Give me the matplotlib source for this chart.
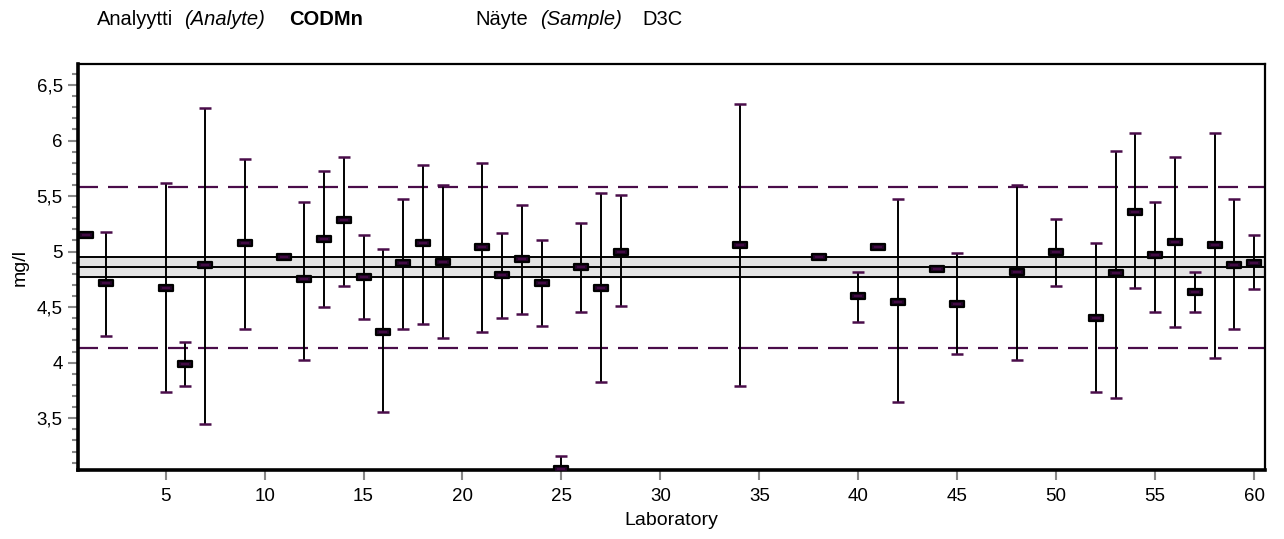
import matplotlib.pyplot as plt
import numpy as np
from matplotlib.path import Path
from matplotlib.ticker import MultipleLocator, FuncFormatter

plt.rcParams['font.family'] = ['Liberation Sans', 'DejaVu Sans']

# lab number, reported value, upper and lower limit of uncertainty (nan = none)
labs = [1, 2, 5, 6, 7, 9, 11, 12, 13, 14, 15, 16, 17, 18, 19, 21, 22, 23, 24, 25,
        26, 27, 28, 34, 38, 40, 41, 42, 44, 45, 48, 50, 52, 53, 54, 55, 56, 57, 58, 59, 60]
values = [5.15, 4.715, 4.676, 3.99, 4.88, 5.075, 4.95, 4.75, 5.11, 5.28, 4.77, 4.28, 4.895,
          5.075, 4.91, 5.04, 4.79, 4.93, 4.715, 3.045,
          4.86, 4.676, 5.0, 5.06, 4.95, 4.60, 5.04, 4.55, 4.84, 4.53, 4.82, 5.0, 4.405,
          4.805, 5.36, 4.97, 5.09, 4.64, 5.06, 4.88, 4.895]
upper = [np.nan, 5.18, 5.62, 4.19, 6.29, 5.835, np.nan, 5.45, 5.73, 5.85, 5.15, 5.02, 5.47,
         5.78, 5.60, 5.80, 5.17, 5.42, 5.10, 3.16,
         5.255, 5.525, 5.51, 6.33, np.nan, 4.82, np.nan, 5.47, np.nan, 4.985, 5.60, 5.29, 5.075,
         5.91, 6.07, 5.45, 5.85, 4.82, 6.07, 5.47, 5.15]
lower = [np.nan, 4.24, 3.74, 3.79, 3.45, 4.30, np.nan, 4.025, 4.50, 4.69, 4.39, 3.56, 4.30,
         4.35, 4.225, 4.28, 4.405, 4.44, 4.33, 2.93,
         4.46, 3.83, 4.51, 3.79, np.nan, 4.37, np.nan, 3.65, np.nan, 4.08, 4.025, 4.69, 3.74,
         3.68, 4.676, 4.46, 4.32, 4.46, 4.045, 4.30, 4.66]

assigned = 4.86
band = (4.77, 4.95)
limits = (4.13, 5.585)

purple = '#4a0d4a'

fig = plt.figure(figsize=(12.84, 5.39), dpi=100)
ax = fig.add_axes([0.0607, 0.128, 0.9245, 0.7527])

# assigned value band and acceptance limits
ax.axhspan(band[0], band[1], color='#e3e3e3', zorder=1)
for yv in (band[0], assigned, band[1]):
    ax.axhline(yv, color='black', lw=1.4, zorder=2)
for yv in limits:
    ax.axhline(yv, color=purple, lw=1.6, dashes=(9, 4.5), zorder=2)

x = np.array(labs, dtype=float)
v = np.array(values)
up = np.array(upper)
lo = np.array(lower)
has = ~np.isnan(up)

eb = ax.errorbar(x[has], v[has], yerr=[v[has] - lo[has], up[has] - v[has]],
                 fmt='none', ecolor='black', elinewidth=1.4, capsize=4.5,
                 capthick=1.8, zorder=3)
for cl in eb[1]:
    cl.set_markeredgecolor(purple)

rect = Path([(-1, -0.42), (1, -0.42), (1, 0.42), (-1, 0.42), (-1, -0.42)],
            [Path.MOVETO, Path.LINETO, Path.LINETO, Path.LINETO, Path.CLOSEPOLY])
ax.scatter(x, v, marker=rect, s=110, facecolor='#24052a', edgecolor='black',
           linewidths=1.6, zorder=4)
ax.scatter(x, v, marker='_', s=30, color=purple, linewidths=1.2, zorder=5)

ax.set_xlim(0.57, 60.55)
ax.set_ylim(3.034, 6.686)

ax.xaxis.set_major_locator(MultipleLocator(5))
ax.yaxis.set_major_locator(MultipleLocator(0.5))
ax.yaxis.set_minor_locator(MultipleLocator(0.1))
fmt = FuncFormatter(lambda val, pos: f'{val:g}'.replace('.', ','))
ax.yaxis.set_major_formatter(fmt)
ax.set_xticks([t for t in range(5, 61, 5)])

ax.tick_params(axis='both', which='major', labelsize=13.5, color='#888888',
               width=1.5, length=7, direction='out', pad=4)
ax.tick_params(axis='y', which='minor', color='#888888', width=1.5, length=4.5)
ax.tick_params(axis='x', which='major', pad=6)

for s in ('left', 'bottom'):
    ax.spines[s].set_linewidth(2.6)
for s in ('top', 'right'):
    ax.spines[s].set_linewidth(1.6)

ax.set_xlabel('Laboratory', fontsize=14, labelpad=5)
ax.set_ylabel('mg/l', fontsize=14, labelpad=6)

# header
yh = 1 - 25 / 539
fig.text(97 / 1284, yh, 'Analyytti', fontsize=14.5, va='baseline')
fig.text(184 / 1284, yh, '(Analyte)', fontsize=14.5, style='italic', va='baseline')
fig.text(289 / 1284, yh, 'CODMn', fontsize=14.5, weight='bold', va='baseline')
fig.text(475 / 1284, yh, 'Näyte', fontsize=14.5, va='baseline')
fig.text(540 / 1284, yh, '(Sample)', fontsize=14.5, style='italic', va='baseline')
fig.text(642 / 1284, yh, 'D3C', fontsize=14.5, va='baseline')

fig.savefig('out.png', dpi=100)
